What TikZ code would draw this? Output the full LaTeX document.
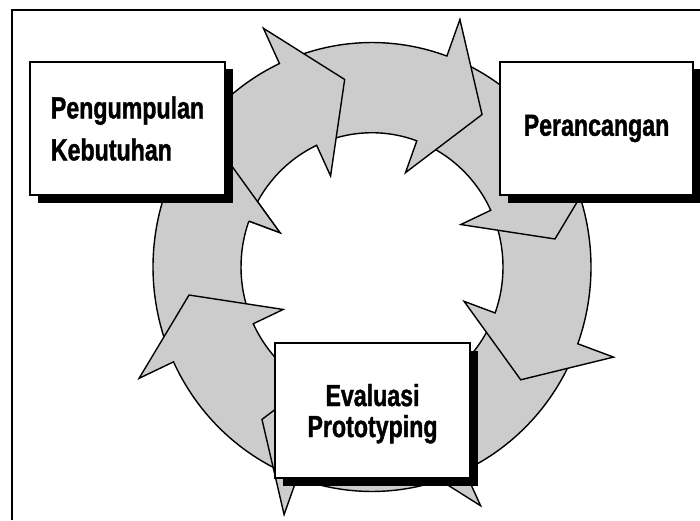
\documentclass[tikz,border=0pt]{standalone}
\usepackage{fontspec}
\newfontfamily\boxfont{Liberation Sans Bold}[FakeStretch=0.76, FakeBold=1.2]
\usetikzlibrary{shadows}
\definecolor{ringgray}{HTML}{CCCCCC}
\tikzset{
  ring/.style={fill=ringgray, draw=black, line width=1.4pt, line join=miter},
  phase/.style={draw=black, fill=white, line width=1.8pt, inner sep=0pt, outer sep=0pt,
    minimum width=195pt, minimum height=133pt,
    drop shadow={shadow xshift=7.5pt, shadow yshift=-7.5pt, fill=black, opacity=1}},
  frameline/.style={draw=black, line width=1.6pt}
}
\newcommand\RingOut{219}
\newcommand\RingIn{131}
\newcommand\BarbOut{257}
\newcommand\BarbIn{98}
\newcommand\TipR{185}
\newcommand\ringarrow[1]{%
  \pgfmathsetmacro\tailA{#1+41}%
  \pgfmathsetmacro\tipA{#1-16.5}%
  \filldraw[ring] (\tailA:\RingOut) arc[start angle=\tailA, end angle=#1, radius=\RingOut]
    -- (#1:\BarbOut) -- (\tipA:\TipR) -- (#1:\BarbIn) -- (#1:\RingIn)
    arc[start angle=#1, end angle=\tailA, radius=\RingIn] -- cycle;}
\newcommand\ringhead[1]{%
  \pgfmathsetmacro\tipA{#1-16.5}%
  \fill[ringgray] (#1:\RingOut) -- (#1:\BarbOut) -- (\tipA:\TipR) -- (#1:\BarbIn) -- (#1:\RingIn) -- cycle;
  \draw[ring, fill=none] (#1:\RingOut) -- (#1:\BarbOut) -- (\tipA:\TipR) -- (#1:\BarbIn) -- (#1:\RingIn);}
\begin{document}
\begin{tikzpicture}[x=1pt, y=1pt]
  \useasboundingbox (0,0) rectangle (700,520);
  \fill[white] (0,0) rectangle (700,520);
  \draw[frameline] (12,0) -- (12,510) -- (700,510);
  \begin{scope}[shift={(372,253)}, yscale=1.025]
    \foreach \b in {160,-155,-110,-65,-20,25,70,115} {\ringarrow{\b}}
    \ringhead{160}
  \end{scope}
  \node[phase, align=left, font=\boxfont\fontsize{30.5pt}{42pt}\selectfont]
    (collect) at (127.5,391.5) {Pengumpulan\\Kebutuhan};
  \node[phase, minimum width=193pt, font=\boxfont\fontsize{30.5pt}{36pt}\selectfont]
    (design) at (596.5,391.5) {Perancangan};
  \node[phase, align=center, minimum height=135pt, font=\boxfont\fontsize{30.5pt}{31pt}\selectfont]
    (evaluate) at (372.5,109.5) {Evaluasi\\\smash{Prototyping}};
\end{tikzpicture}
\end{document}
